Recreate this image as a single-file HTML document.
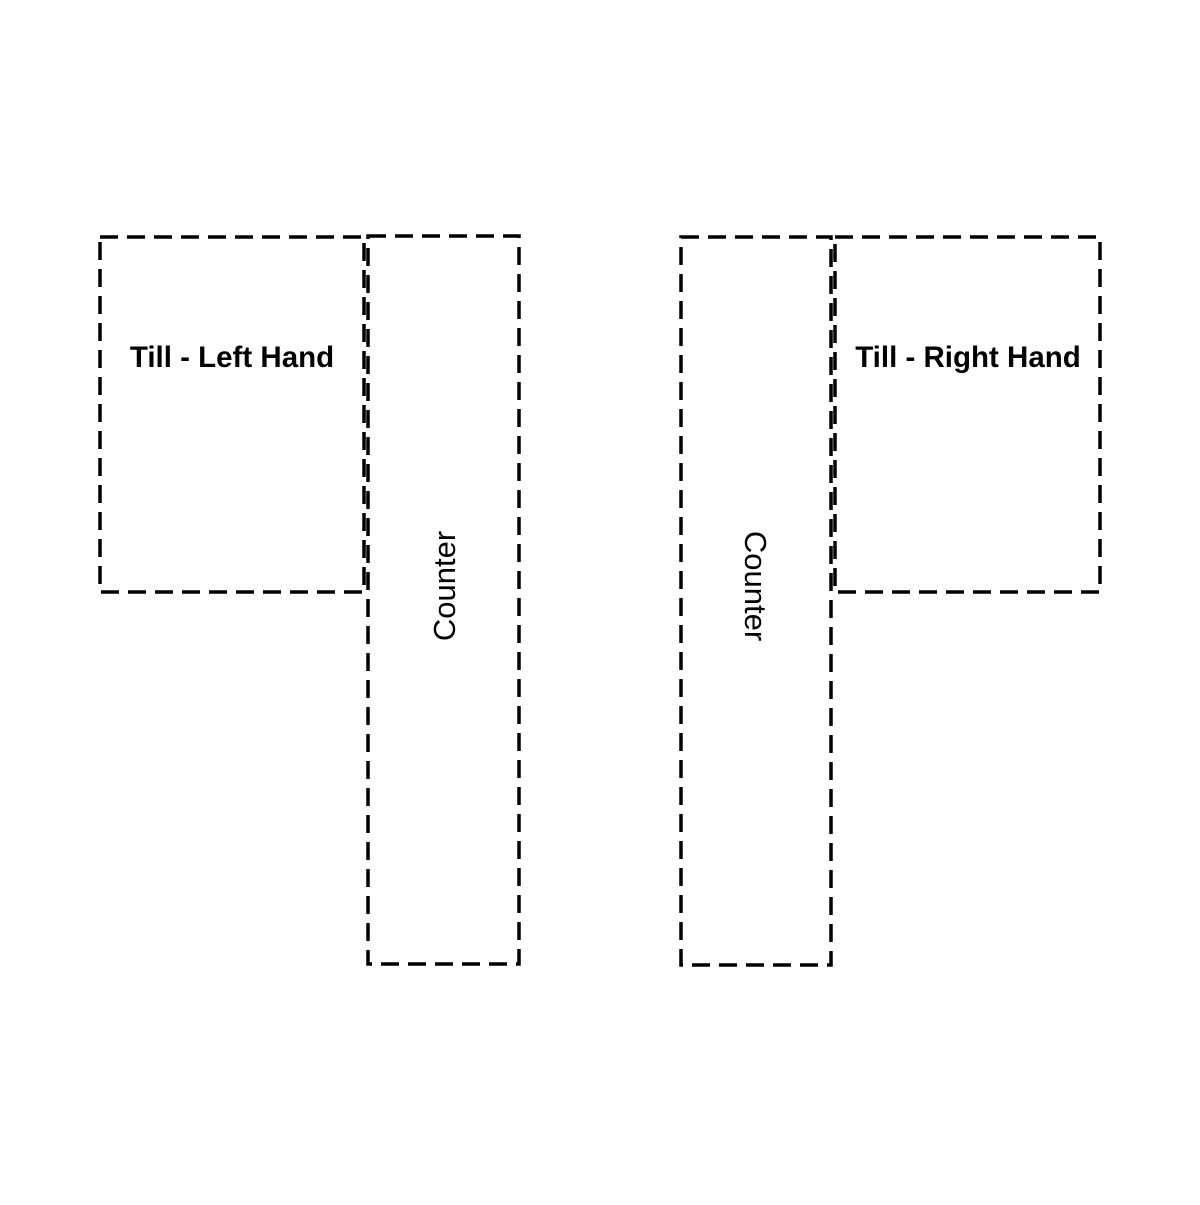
<!DOCTYPE html>
<html><head><style>body{margin:0;background:#fff}</style></head><body>
<svg width="1200" height="1200" xmlns="http://www.w3.org/2000/svg">
<g fill="none" stroke="#000" stroke-width="3.5" stroke-dasharray="18 9">
<rect x="100" y="237" width="264" height="355"/>
<rect x="368" y="236" width="151" height="728"/>
<rect x="681" y="237" width="150" height="728"/>
<rect x="835" y="237" width="265" height="355"/>
</g>
<g font-family="Liberation Sans, sans-serif" fill="#000">
<text x="232" y="367" font-size="29.5" font-weight="bold" text-anchor="middle">Till - Left Hand</text>
<text x="968" y="367" font-size="29.5" font-weight="bold" text-anchor="middle">Till - Right Hand</text>
<text transform="translate(455,586) rotate(-90)" font-size="31" text-anchor="middle">Counter</text>
<text transform="translate(745,586) rotate(90)" font-size="31" text-anchor="middle">Counter</text>
</g>
</svg>
</body></html>
